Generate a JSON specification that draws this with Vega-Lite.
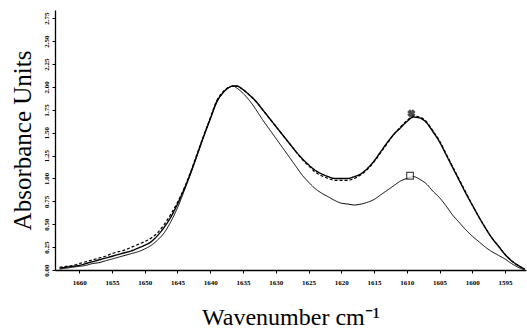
{
  "$schema": "https://vega.github.io/schema/vega-lite/v6.json",
  "width": 471,
  "height": 260,
  "autosize": {"type": "none"},
  "padding": {"left": 55, "top": 10, "right": 1, "bottom": 65},
  "background": "white",
  "config": {"view": {"stroke": null}, "font": "Liberation Serif"},
  "datasets": {
    "curves": [
      {"s":"A","x":1663,"y":0.02},{"s":"A","x":1662,"y":0.03},{"s":"A","x":1661,"y":0.04},{"s":"A","x":1660,"y":0.05},{"s":"A","x":1659,"y":0.07},{"s":"A","x":1658,"y":0.09},{"s":"A","x":1657,"y":0.11},{"s":"A","x":1656,"y":0.13},{"s":"A","x":1655,"y":0.15},{"s":"A","x":1654,"y":0.17},{"s":"A","x":1653,"y":0.19},{"s":"A","x":1652,"y":0.21},{"s":"A","x":1651,"y":0.24},{"s":"A","x":1650,"y":0.27},{"s":"A","x":1649,"y":0.31},{"s":"A","x":1648,"y":0.38},{"s":"A","x":1647,"y":0.47},{"s":"A","x":1646,"y":0.58},{"s":"A","x":1645,"y":0.72},{"s":"A","x":1644,"y":0.88},{"s":"A","x":1643,"y":1.06},{"s":"A","x":1642,"y":1.26},{"s":"A","x":1641,"y":1.46},{"s":"A","x":1640,"y":1.65},{"s":"A","x":1639,"y":1.84},{"s":"A","x":1638,"y":1.94},{"s":"A","x":1637,"y":2.0},{"s":"A","x":1636.5,"y":2.01},{"s":"A","x":1636,"y":2.01},{"s":"A","x":1635,"y":1.97},{"s":"A","x":1634,"y":1.91},{"s":"A","x":1633,"y":1.84},{"s":"A","x":1632,"y":1.75},{"s":"A","x":1631,"y":1.66},{"s":"A","x":1630,"y":1.57},{"s":"A","x":1629,"y":1.48},{"s":"A","x":1628,"y":1.39},{"s":"A","x":1627,"y":1.3},{"s":"A","x":1626,"y":1.22},{"s":"A","x":1625,"y":1.15},{"s":"A","x":1624,"y":1.09},{"s":"A","x":1623,"y":1.05},{"s":"A","x":1622,"y":1.02},{"s":"A","x":1621,"y":1.0},{"s":"A","x":1620,"y":1.0},{"s":"A","x":1619,"y":1.0},{"s":"A","x":1618,"y":1.02},{"s":"A","x":1617,"y":1.05},{"s":"A","x":1616,"y":1.11},{"s":"A","x":1615,"y":1.19},{"s":"A","x":1614,"y":1.29},{"s":"A","x":1613,"y":1.39},{"s":"A","x":1612,"y":1.48},{"s":"A","x":1611,"y":1.55},{"s":"A","x":1610,"y":1.62},{"s":"A","x":1609,"y":1.67},{"s":"A","x":1608,"y":1.66},{"s":"A","x":1607,"y":1.61},{"s":"A","x":1606,"y":1.51},{"s":"A","x":1605,"y":1.4},{"s":"A","x":1604,"y":1.26},{"s":"A","x":1603,"y":1.12},{"s":"A","x":1602,"y":0.98},{"s":"A","x":1601,"y":0.84},{"s":"A","x":1600,"y":0.71},{"s":"A","x":1599,"y":0.58},{"s":"A","x":1598,"y":0.46},{"s":"A","x":1597,"y":0.35},{"s":"A","x":1596,"y":0.26},{"s":"A","x":1595,"y":0.17},{"s":"A","x":1594,"y":0.1},{"s":"A","x":1593,"y":0.05},{"s":"A","x":1592,"y":0.01},

      {"s":"B","x":1663,"y":0.03},{"s":"B","x":1662,"y":0.04},{"s":"B","x":1661,"y":0.05},{"s":"B","x":1660,"y":0.07},{"s":"B","x":1659,"y":0.09},{"s":"B","x":1658,"y":0.11},{"s":"B","x":1657,"y":0.13},{"s":"B","x":1656,"y":0.15},{"s":"B","x":1655,"y":0.18},{"s":"B","x":1654,"y":0.2},{"s":"B","x":1653,"y":0.22},{"s":"B","x":1652,"y":0.25},{"s":"B","x":1651,"y":0.28},{"s":"B","x":1650,"y":0.31},{"s":"B","x":1649,"y":0.35},{"s":"B","x":1648,"y":0.41},{"s":"B","x":1647,"y":0.5},{"s":"B","x":1646,"y":0.61},{"s":"B","x":1645,"y":0.74},{"s":"B","x":1644,"y":0.89},{"s":"B","x":1643,"y":1.07},{"s":"B","x":1642,"y":1.27},{"s":"B","x":1641,"y":1.47},{"s":"B","x":1640,"y":1.66},{"s":"B","x":1639,"y":1.85},{"s":"B","x":1638,"y":1.95},{"s":"B","x":1637,"y":2.0},{"s":"B","x":1636.5,"y":2.01},{"s":"B","x":1636,"y":2.01},{"s":"B","x":1635,"y":1.97},{"s":"B","x":1634,"y":1.91},{"s":"B","x":1633,"y":1.84},{"s":"B","x":1632,"y":1.75},{"s":"B","x":1631,"y":1.66},{"s":"B","x":1630,"y":1.57},{"s":"B","x":1629,"y":1.48},{"s":"B","x":1628,"y":1.39},{"s":"B","x":1627,"y":1.3},{"s":"B","x":1626,"y":1.21},{"s":"B","x":1625,"y":1.14},{"s":"B","x":1624,"y":1.07},{"s":"B","x":1623,"y":1.03},{"s":"B","x":1622,"y":1.0},{"s":"B","x":1621,"y":0.98},{"s":"B","x":1620,"y":0.98},{"s":"B","x":1619,"y":0.98},{"s":"B","x":1618,"y":1.0},{"s":"B","x":1617,"y":1.04},{"s":"B","x":1616,"y":1.1},{"s":"B","x":1615,"y":1.18},{"s":"B","x":1614,"y":1.28},{"s":"B","x":1613,"y":1.38},{"s":"B","x":1612,"y":1.48},{"s":"B","x":1611,"y":1.56},{"s":"B","x":1610,"y":1.63},{"s":"B","x":1609,"y":1.68},{"s":"B","x":1608,"y":1.67},{"s":"B","x":1607,"y":1.62},{"s":"B","x":1606,"y":1.52},{"s":"B","x":1605,"y":1.41},{"s":"B","x":1604,"y":1.27},{"s":"B","x":1603,"y":1.13},{"s":"B","x":1602,"y":0.99},{"s":"B","x":1601,"y":0.85},{"s":"B","x":1600,"y":0.71},{"s":"B","x":1599,"y":0.58},{"s":"B","x":1598,"y":0.46},{"s":"B","x":1597,"y":0.35},{"s":"B","x":1596,"y":0.26},{"s":"B","x":1595,"y":0.17},{"s":"B","x":1594,"y":0.1},{"s":"B","x":1593,"y":0.05},{"s":"B","x":1592,"y":0.01},

      {"s":"C","x":1663,"y":0.01},{"s":"C","x":1662,"y":0.02},{"s":"C","x":1661,"y":0.03},{"s":"C","x":1660,"y":0.04},{"s":"C","x":1659,"y":0.05},{"s":"C","x":1658,"y":0.07},{"s":"C","x":1657,"y":0.08},{"s":"C","x":1656,"y":0.1},{"s":"C","x":1655,"y":0.12},{"s":"C","x":1654,"y":0.14},{"s":"C","x":1653,"y":0.16},{"s":"C","x":1652,"y":0.18},{"s":"C","x":1651,"y":0.2},{"s":"C","x":1650,"y":0.23},{"s":"C","x":1649,"y":0.27},{"s":"C","x":1648,"y":0.33},{"s":"C","x":1647,"y":0.41},{"s":"C","x":1646,"y":0.53},{"s":"C","x":1645,"y":0.68},{"s":"C","x":1644,"y":0.86},{"s":"C","x":1643,"y":1.05},{"s":"C","x":1642,"y":1.25},{"s":"C","x":1641,"y":1.46},{"s":"C","x":1640,"y":1.65},{"s":"C","x":1639,"y":1.83},{"s":"C","x":1638,"y":1.94},{"s":"C","x":1637,"y":2.0},{"s":"C","x":1636.5,"y":2.01},{"s":"C","x":1636,"y":1.99},{"s":"C","x":1635,"y":1.93},{"s":"C","x":1634,"y":1.85},{"s":"C","x":1633,"y":1.75},{"s":"C","x":1632,"y":1.64},{"s":"C","x":1631,"y":1.54},{"s":"C","x":1630,"y":1.44},{"s":"C","x":1629,"y":1.34},{"s":"C","x":1628,"y":1.24},{"s":"C","x":1627,"y":1.14},{"s":"C","x":1626,"y":1.04},{"s":"C","x":1625,"y":0.96},{"s":"C","x":1624,"y":0.89},{"s":"C","x":1623,"y":0.84},{"s":"C","x":1622,"y":0.8},{"s":"C","x":1621,"y":0.76},{"s":"C","x":1620,"y":0.73},{"s":"C","x":1619,"y":0.72},{"s":"C","x":1618,"y":0.71},{"s":"C","x":1617,"y":0.72},{"s":"C","x":1616,"y":0.74},{"s":"C","x":1615,"y":0.77},{"s":"C","x":1614,"y":0.82},{"s":"C","x":1613,"y":0.87},{"s":"C","x":1612,"y":0.92},{"s":"C","x":1611,"y":0.97},{"s":"C","x":1610,"y":1.0},{"s":"C","x":1609,"y":1.02},{"s":"C","x":1608,"y":0.99},{"s":"C","x":1607,"y":0.94},{"s":"C","x":1606,"y":0.86},{"s":"C","x":1605,"y":0.79},{"s":"C","x":1604,"y":0.7},{"s":"C","x":1603,"y":0.6},{"s":"C","x":1602,"y":0.52},{"s":"C","x":1601,"y":0.44},{"s":"C","x":1600,"y":0.37},{"s":"C","x":1599,"y":0.31},{"s":"C","x":1598,"y":0.25},{"s":"C","x":1597,"y":0.2},{"s":"C","x":1596,"y":0.16},{"s":"C","x":1595,"y":0.12},{"s":"C","x":1594,"y":0.07},{"s":"C","x":1593,"y":0.03},{"s":"C","x":1592,"y":0.0}
    ],
    "markers": [
      {"m":"square","x":1609.5,"y":1.03},
      {"m":"cross","x":1609.3,"y":1.71}
    ]
  },
  "encoding": {
    "x": {
      "field": "x", "type": "quantitative",
      "scale": {"domain": [1591.8, 1663.7], "reverse": true, "nice": false, "zero": false},
      "axis": {
        "title": "Wavenumber  cm⁻¹",
        "titleFont": "Liberation Serif", "titleFontSize": 24, "titleFontWeight": "normal", "titleColor": "black",
        "titlePadding": 20,
        "values": [1595,1600,1605,1610,1615,1620,1625,1630,1635,1640,1645,1650,1655,1660],
        "format": "d",
        "labelOverlap": false,
        "labelFont": "Liberation Serif", "labelFontSize": 7, "labelFontWeight": "bold", "labelColor": "black",
        "labelPadding": 5,
        "tickSize": 3, "tickColor": "black", "domainColor": "black", "domainWidth": 1.5,
        "grid": false
      }
    },
    "y": {
      "field": "y", "type": "quantitative",
      "scale": {"domain": [0, 2.84], "nice": false},
      "axis": {
        "title": "Absorbance Units",
        "titleFont": "Liberation Serif", "titleFontSize": 25, "titleFontWeight": "normal", "titleColor": "black",
        "titlePadding": 7,
        "values": [0,0.25,0.5,0.75,1,1.25,1.5,1.75,2,2.25,2.5,2.75],
        "format": ".2f",
        "labelOverlap": false,
        "labelAngle": -90, "labelAlign": "center", "labelBaseline": "bottom",
        "labelFont": "Liberation Serif", "labelFontSize": 7, "labelFontWeight": "bold", "labelColor": "black",
        "labelPadding": 3,
        "tickSize": 3, "tickColor": "black", "domainColor": "black", "domainWidth": 1.3,
        "grid": false
      }
    }
  },
  "layer": [
    {
      "data": {"name": "curves"},
      "mark": {"type": "line", "color": "black", "interpolate": "monotone", "clip": true},
      "encoding": {
        "detail": {"field": "s"},
        "strokeDash": {"field": "s", "type": "nominal", "scale": {"domain": ["A","B","C"], "range": [[1,0],[3,2],[1,0]]}, "legend": null},
        "strokeWidth": {"field": "s", "type": "nominal", "scale": {"domain": ["A","B","C"], "range": [1.4,1.0,1.0]}, "legend": null}
      }
    },
    {
      "data": {"name": "markers"},
      "mark": {"type": "point", "stroke": "black", "strokeWidth": 1.2, "size": 45},
      "encoding": {
        "shape": {"field": "m", "type": "nominal", "scale": {"domain": ["square","cross"], "range": ["square","cross"]}, "legend": null},
        "fill": {"field": "m", "type": "nominal", "scale": {"domain": ["square","cross"], "range": ["white","black"]}, "legend": null},
        "angle": {"field": "m", "type": "nominal", "scale": {"domain": ["square","cross"], "range": [0,45]}, "legend": null}
      }
    }
  ]
}
